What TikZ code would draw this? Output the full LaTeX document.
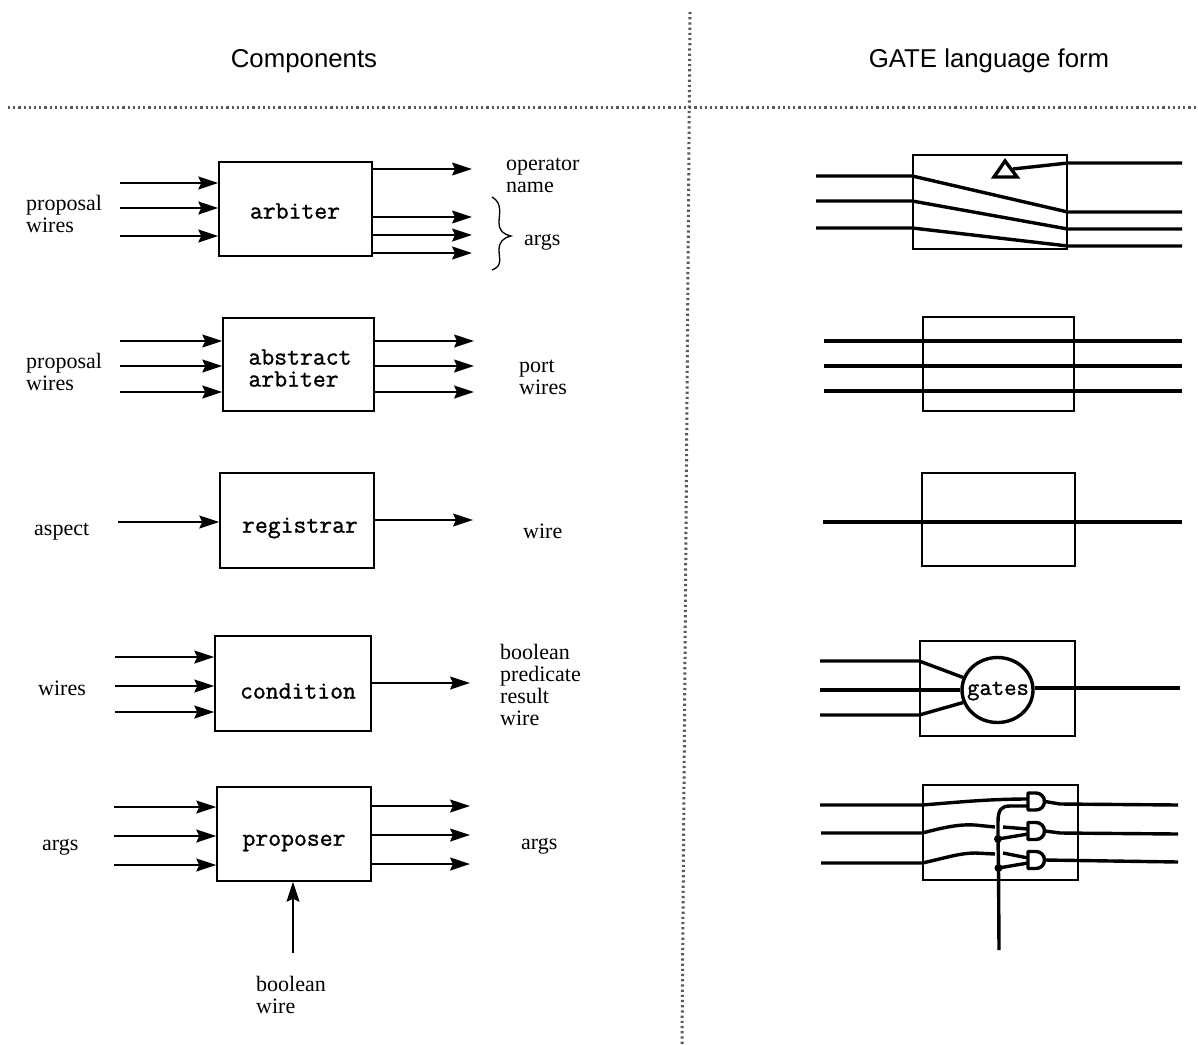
\documentclass[tikz,border=0pt]{standalone}
\usepackage{fontspec}
\setmainfont{Liberation Serif}
\setsansfont{Liberation Sans}
\newfontfamily\gatemono{Latin Modern Mono}[FakeBold=1.2]
\usetikzlibrary{arrows.meta,shapes.geometric}
\tikzset{
  box/.style={draw=black,line width=1.5pt,inner sep=0pt,minimum width=#1},
  box/.default=154pt,
  arr/.style={line width=1.5pt,-{Stealth[length=20pt,width=13pt,inset=3pt]}},
  wire/.style={line width=3.4pt,line join=round},
  lab/.style={font=\rmfamily\fontsize{22}{22}\selectfont,anchor=west,inner sep=0pt},
  mono/.style={font=\gatemono\fontsize{25}{22}\selectfont,inner sep=0pt},
  head/.style={font=\sffamily\fontsize{25.8}{28}\selectfont,inner sep=0pt},
  sep/.style={line width=3pt,draw=black!65,dash pattern=on 2.2pt off 3pt},
  dot/.style={circle,fill=black,inner sep=0pt,minimum size=8pt},
}
\begin{document}
\begin{tikzpicture}[x=1pt,y=-1pt]
\useasboundingbox (0,0) rectangle (1198,1044);
% headings and separators
\node[head] (hc) at (304,61) {Components};
\node[head] (hg) at (989,61) {GATE language form};
\coordinate (sl) at (8,107); \coordinate (sr) at (1198,107);
\coordinate (st) at (690,12); \coordinate (sb) at (682,1044);
\draw[sep] (sl) -- (sr);
\draw[sep] (st) -- (sb);

% ---- left column boxes
\node[box=153pt,minimum height=94pt] (A) at (295.5,209) {};
\node[box=151pt,minimum height=93pt] (B) at (298.5,364.5) {};
\node[box=154pt,minimum height=95pt] (C) at (297,520.5) {};
\node[box=156pt,minimum height=95pt] (D) at (293,683.5) {};
\node[box=154pt,minimum height=94pt] (E) at (294,834) {};
\node[mono] (At) at (295,211) {arbiter};
\node[mono,align=left] (Bt) at (300,368) {abstract\\[0pt]arbiter};
\node[mono] (Ct) at (300,528) {registrar};
\node[mono] (Dt) at (298,691) {condition};
\node[mono] (Et) at (294,843) {proposer};

% arbiter
\foreach \n/\y in {1/183,2/208,3/236}{\coordinate (ai\n) at (120,\y); \draw[arr] (ai\n) -- (A.west |- ai\n);}
\foreach \n/\y in {1/169,2/217,3/235,4/253}{\coordinate (ao\n) at (472,\y); \draw[arr] (A.east |- ao\n) -- (ao\n);}
% abstract arbiter
\foreach \n/\y in {1/341,2/366,3/392}{\coordinate (bi\n) at (120,\y); \draw[arr] (bi\n) -- (B.west |- bi\n);}
\foreach \n/\y in {1/341,2/366,3/392}{\coordinate (bo\n) at (474,\y); \draw[arr] (B.east |- bo\n) -- (bo\n);}
% registrar
\coordinate (ci) at (118,522); \draw[arr] (ci) -- (C.west |- ci);
\coordinate (co) at (473,520); \draw[arr] (C.east |- co) -- (co);
% condition
\foreach \n/\y in {1/657,2/686,3/712}{\coordinate (di\n) at (115,\y); \draw[arr] (di\n) -- (D.west |- di\n);}
\coordinate (do) at (470,683); \draw[arr] (D.east |- do) -- (do);
% proposer
\foreach \n/\y in {1/807,2/836,3/865}{\coordinate (ei\n) at (114,\y); \draw[arr] (ei\n) -- (E.west |- ei\n);}
\foreach \n/\y in {1/806,2/835,3/864}{\coordinate (eo\n) at (470,\y); \draw[arr] (E.east |- eo\n) -- (eo\n);}
\coordinate (eu) at (293,953); \draw[arr] (eu) -- (eu |- E.south);

% left column labels
\node[lab,align=left] (l1) at (26,214) {proposal\\[0pt]wires};
\node[lab,align=left] (l2) at (506,175) {operator\\[0pt]name};
\node[lab] (l3) at (524,242) {args};
\node[lab,align=left] (l4) at (26,372) {proposal\\[0pt]wires};
\node[lab,align=left] (l5) at (519,377) {port\\[0pt]wires};
\node[lab] (l6) at (34,532) {aspect};
\node[lab] (l7) at (523,531) {wire};
\node[lab,align=left] (l8) at (500,685) {boolean\\[0pt]predicate\\[0pt]result\\[0pt]wire};
\node[lab] (l9) at (38,688) {wires};
\node[lab] (l10) at (42,847) {args};
\node[lab] (l11) at (521,846) {args};
\node[lab,align=left] (l12) at (256,995) {boolean\\[0pt]wire};
% brace
\coordinate (br) at (492,197);
\draw[line width=1.3pt] (br) .. controls (503,203) and (499,215) .. (499,222)
  .. controls (499,231) and (503,234) .. (511,236)
  .. controls (503,238) and (499,242) .. (499,250)
  .. controls (499,258) and (503,266) .. (492,270);

% ---- right column boxes
\node[box=154pt,minimum height=94pt] (RA) at (990,202) {};
\node[box=151pt,minimum height=94pt] (RB) at (998.5,364) {};
\node[box=153pt,minimum height=93pt] (RC) at (998.5,519.5) {};
\node[box=155pt,minimum height=95pt] (RD) at (997.5,688.5) {};
\node[box=155pt,minimum height=95pt] (RE) at (1000.5,832.5) {};

% R1
\foreach \n/\yl/\yr in {1/176/212,2/201/229,3/228/246}{
  \coordinate (ral\n) at (816,\yl); \coordinate (rar\n) at (1182,\yr);
  \draw[wire] (ral\n) -- (RA.west |- ral\n) -- (RA.east |- rar\n) -- (rar\n);}
\coordinate (tt) at (1005,161); \coordinate (tl) at (994,177); \coordinate (tr) at (1017,177);
\draw[line width=3.4pt,line join=miter] (tt) -- (tl) -- (tr) -- cycle;
\coordinate (tc) at (1013,169);
\coordinate (rat) at (1182,163);
\draw[wire] (rat) -- (RA.east |- rat) -- (tc);

% R2
\foreach \n/\y in {1/341,2/366,3/391}{
  \coordinate (rbl\n) at (824,\y); \coordinate (rbr\n) at (1182,\y);
  \draw[wire] (rbl\n) -- (rbr\n);}
% R3
\coordinate (rcl) at (823,522); \coordinate (rcr) at (1182,522);
\draw[wire] (rcl) -- (rcr);

% R4
\node[ellipse,draw=black,line width=3.4pt,inner sep=0pt,minimum width=71pt,minimum height=65pt] (G) at (997.5,690) {};
\node[mono,font=\gatemono\fontsize{24}{22}\selectfont] (Gt) at (998,691) {gates};
\coordinate (rdl1) at (820,661); \coordinate (rdl2) at (820,690); \coordinate (rdl3) at (820,715);
\coordinate (rdr) at (1180,688);
\draw[wire] (rdl1) -- (RD.west |- rdl1) -- (G.160);
\draw[wire] (rdl2) -- (G.west |- rdl2);
\draw[wire] (rdl3) -- (RD.west |- rdl3) -- (G.200);
\draw[wire] (G.east |- rdr) -- (rdr);

% R5: AND gates
\foreach \n/\x/\y in {1/1028/801.5,2/1028/831,3/1028/860}{
  \coordinate (g\n) at (\x,\y);
  \coordinate (gout\n) at (1045,\y);
  \draw[line width=3.4pt,line join=round] (\x,\y-8.5) -- (\x+8,\y-8.5) arc[start angle=90,end angle=-90,radius=8.5pt] -- (\x,\y+8.5) -- cycle;
}
\coordinate (rel1) at (820,805); \coordinate (rel2) at (821,833); \coordinate (rel3) at (821,863);
\coordinate (rer1) at (1178,805); \coordinate (rer2) at (1178,834); \coordinate (rer3) at (1178,862);
\coordinate (gap2) at (995,827); \coordinate (gap2b) at (1003,827);
\coordinate (gap3) at (995,854); \coordinate (gap3b) at (1003,853);
\draw[wire] (rel1) -- (RE.west |- rel1) .. controls (960,802) and (990,799) .. (1028,799);
\draw[wire] (rel2) -- (RE.west |- rel2) .. controls (945,827) and (960,824) .. (975,825) -- (gap2);
\draw[wire] (gap2b) -- (1028,829);
\draw[wire] (rel3) -- (RE.west |- rel3) .. controls (945,858) and (960,853) .. (975,853) -- (gap3);
\draw[wire] (gap3b) -- (1028,858);
% enable
\coordinate (en) at (999,950);
\node[dot] (d1) at (998,839) {};
\node[dot] (d2) at (998.5,868) {};
\draw[wire] (en) -- (d2.center) -- (d1.center) -- (998,822) .. controls (998,810) and (1001,806) .. (1010,806) -- (1028,806);
\draw[wire] (d1.center) -- (1028,834);
\draw[wire] (d2.center) -- (1028,863);
% outputs
\draw[wire] (gout1) -- (1060,804) -- (rer1);
\draw[wire] (gout2) -- (1060,833) -- (rer2);
\draw[wire] (gout3) -- (rer3);
\end{tikzpicture}
\end{document}
